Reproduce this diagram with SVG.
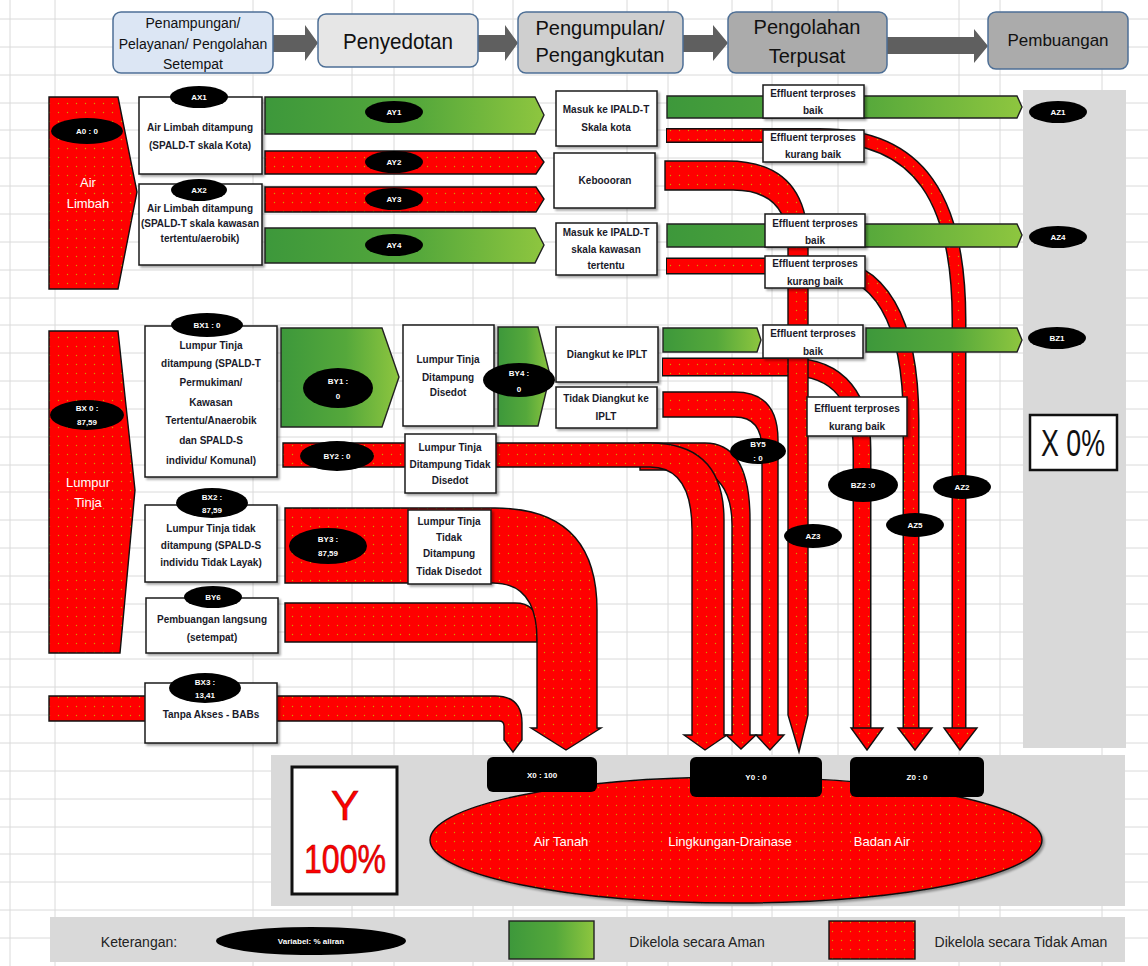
<svg xmlns="http://www.w3.org/2000/svg" width="1148" height="966" viewBox="0 0 1148 966">
<defs>
<pattern id="dots" width="9" height="9" patternUnits="userSpaceOnUse"><rect width="9" height="9" fill="#ff0000"/><circle cx="4.5" cy="4.5" r="0.7" fill="#c9a400"/></pattern>
<linearGradient id="grn" x1="0" y1="0" x2="1" y2="0"><stop offset="0" stop-color="#3d983b"/><stop offset="0.55" stop-color="#55a83b"/><stop offset="1" stop-color="#8ec63f"/></linearGradient>
<filter id="sh" x="-10%" y="-10%" width="125%" height="130%"><feDropShadow dx="2" dy="2" stdDeviation="1.2" flood-color="#000" flood-opacity="0.35"/></filter>
</defs>
<style>
text{font-family:"Liberation Sans",Arial,sans-serif}
.h{fill:#111;text-anchor:middle}
.bt{font-size:10px;font-weight:bold;fill:#1a1a2a;text-anchor:middle}
.et{font-size:8px;font-weight:bold;fill:#fff;text-anchor:middle}
.wt{font-size:13px;fill:#fff;text-anchor:middle}
.box{fill:#fff;stroke:#1a1a1a;stroke-width:1.5;filter:url(#sh)}
.red{fill:url(#dots);stroke:#111;stroke-width:1.4}
.grn{fill:url(#grn);stroke:#222;stroke-width:1.4}
.po{fill:none;stroke:#111}
.pi{fill:none;stroke:url(#dots)}
.hb{stroke:#4d6f96;stroke-width:1.5}
.ha{fill:#5f5f5f}
.el{fill:#000}
</style>
<rect width="1148" height="966" fill="#fff"/>
<path d="M0,19H1148M0,47H1148M0,75H1148M0,103H1148M0,130H1148M0,158H1148M0,186H1148M0,214H1148M0,242H1148M0,270H1148M0,298H1148M0,325H1148M0,353H1148M0,381H1148M0,409H1148M0,437H1148M0,465H1148M0,492H1148M0,520H1148M0,548H1148M0,576H1148M0,604H1148M0,632H1148M0,659H1148M0,687H1148M0,715H1148M0,743H1148M0,771H1148M0,799H1148M0,827H1148M0,854H1148M0,882H1148M0,910H1148M0,938H1148M10,0V966M55,0V966M253,0V966M352,0V966M394,0V966M473,0V966M513,0V966M627,0V966M668,0V966M732,0V966M772,0V966M838,0V966M959,0V966M1000,0V966M1102,0V966" stroke="#dadada" stroke-width="1" fill="none"/>
<rect x="1023" y="90" width="103" height="658" fill="#d9d9d9"/>
<rect x="271" y="755" width="854" height="151" fill="#d9d9d9"/>
<rect x="50" y="917" width="1075" height="45" fill="#d9d9d9"/>

<g id="header">
<polygon class="ha" points="273,35 305,35 305,25 318,43 305,61 305,52 273,52"/>
<polygon class="ha" points="478,35 505,35 505,25 518,43 505,61 505,52 478,52"/>
<polygon class="ha" points="683,35 713,35 713,25 728,43 713,61 713,52 683,52"/>
<polygon class="ha" points="887,37 974,37 974,29 988,46 974,63 974,54 887,54"/>
<g id="h1"><rect x="113" y="12" width="160" height="61" rx="8" fill="#dce6f4" class="hb"/><text class="h" x="193" y="28" font-size="14">Penampungan/</text><text class="h" x="193" y="49" font-size="14">Pelayanan/ Pengolahan</text><text class="h" x="193" y="69" font-size="14">Setempat</text></g>
<g id="h2"><rect x="318" y="14" width="160" height="53" rx="8" fill="#e6e6e6" class="hb"/><text class="h" x="398" y="49" font-size="22" textLength="110" lengthAdjust="spacingAndGlyphs">Penyedotan</text></g>
<g id="h3"><rect x="518" y="12" width="165" height="61" rx="8" fill="#cfcfcf" class="hb"/><text class="h" x="600" y="35" font-size="20">Pengumpulan/</text><text class="h" x="600" y="62" font-size="20">Pengangkutan</text></g>
<g id="h4"><rect x="728" y="12" width="159" height="61" rx="8" fill="#ababab" class="hb"/><text class="h" x="807" y="34" font-size="20">Pengolahan</text><text class="h" x="807" y="63" font-size="20">Terpusat</text></g>
<g id="h5"><rect x="988" y="12" width="140" height="57" rx="8" fill="#ababab" class="hb"/><text class="h" x="1058" y="46" font-size="17">Pembuangan</text></g>
</g>

<g id="connectors">
<path class="po" stroke-width="15" d="M666,135.5 L820,135.5 C920,135.5 959,200 959,320 L959,731"/>
<path class="pi" stroke-width="12" d="M667,135.5 L820,135.5 C920,135.5 959,200 959,320 L959,732"/>
<polygon class="red" points="944,728 977,728 960,750"/>
<path class="po" stroke-width="17" d="M666,266 L820,266 C880,266 911,320 911,420 L911,731"/>
<path class="pi" stroke-width="14" d="M667,266 L820,266 C880,266 911,320 911,420 L911,732"/>
<polygon class="red" points="898,728 932,728 915,750"/>
<path class="po" stroke-width="19" d="M662,367 L790,367 C840,367 862,400 862,450 L862,731"/>
<path class="pi" stroke-width="16" d="M663,367 L790,367 C840,367 862,400 862,450 L862,732"/>
<polygon class="red" points="851,728 883,728 867,750"/>
<path class="red" d="M665,161 L727,161 Q808,161 808,245 L808,715 L799,752 L788,715 L788,245 Q788,190 733,190 L665,190 Z"/>
<path class="red" d="M663,392 L735,392 Q778,392 778,440 L778,735 L784,735 L770,750 L756,735 L762,735 L762,450 Q762,417 735,417 L663,417 Z"/>
<path class="red" d="M640,443 L705,443 Q750,443 750,520 L750,735 L756,735 L741,749 L726,735 L732,735 L732,525 Q732,480 700,470 L640,470 Z"/>
<path class="red" d="M283,443 L650,443 Q724,443 724,520 L724,735 L727,735 L705,750 L684,735 L692,735 L692,530 Q692,467 650,467 L283,467 Z"/>
<path class="red" d="M49,696 L495,696 Q522,696 522,723 L522,740 L513,752 L504,740 L504,726 Q504,721 499,721 L49,721 Z"/>
<path class="red" d="M285,603 L515,603 Q537,603 537,625 L537,642 L285,642 Z"/>
<path class="red" d="M285,508 L495,508 Q597,508 597,610 L597,728 L601,728 L566,750 L531,728 L537,728 L537,640 Q537,583 493,583 L285,583 Z"/>
<polygon class="red" points="265,151 536,151 544,162 536,174 265,174"/>
<polygon class="red" points="265,187 536,187 544,199 536,212 265,212"/>
<polygon class="grn" points="265,97 535,97 544,115 535,134 265,134"/>
<polygon class="grn" points="265,228 535,228 544,245 535,263 265,263"/>
<polygon class="grn" points="667,96 1017,96 1022,107 1017,118 667,118"/>
<polygon class="grn" points="667,224 1017,224 1022,235 1017,247 667,247"/>
<polygon class="grn" points="663,328 757,328 761,340 757,352 663,352"/>
<polygon class="grn" points="866,328 1017,328 1022,340 1017,352 866,352"/>
<polygon class="grn" points="281,328 382,328 399,377 382,427 281,427"/>
<polygon class="grn" points="498,327 538,327 550,375 538,426 498,426"/>
</g>

<g id="air-limbah"><polygon class="red" points="49,97 118,97 137,192 118,289 49,289"/><ellipse class="el" cx="87" cy="131" rx="36" ry="13"/><text class="et" x="87" y="134">A0 : 0</text><text class="wt" x="88" y="187">Air</text><text class="wt" x="88" y="208">Limbah</text></g>
<g id="lumpur-tinja"><polygon class="red" points="49,331 118,331 135,490 120,653 49,653"/><ellipse class="el" cx="87" cy="415" rx="37" ry="15"/><text class="et" x="87" y="411">BX 0 :</text><text class="et" x="87" y="425">87,59</text><text class="wt" x="88" y="487">Lumpur</text><text class="wt" x="88" y="507">Tinja</text></g>

<g id="ax1"><rect class="box" x="139" y="97" width="123" height="77"/><ellipse class="el" cx="199" cy="97" rx="29" ry="11"/><text class="et" x="199" y="100">AX1</text><text class="bt" x="200" y="131">Air Limbah ditampung</text><text class="bt" x="200" y="149">(SPALD-T skala Kota)</text></g>
<g id="ax2"><rect class="box" x="139" y="184" width="123" height="81"/><ellipse class="el" cx="199" cy="190" rx="28" ry="11"/><text class="et" x="199" y="193">AX2</text><text class="bt" x="200" y="212">Air Limbah ditampung</text><text class="bt" x="200" y="227">(SPALD-T skala kawasan</text><text class="bt" x="200" y="242">tertentu/aerobik)</text></g>
<g id="ay-labels"><ellipse class="el" cx="394" cy="112" rx="29" ry="11"/><text class="et" x="394" y="115">AY1</text><ellipse class="el" cx="394" cy="162" rx="29" ry="11"/><text class="et" x="394" y="165">AY2</text><ellipse class="el" cx="394" cy="199" rx="29" ry="11"/><text class="et" x="394" y="202">AY3</text><ellipse class="el" cx="394" cy="245" rx="29" ry="11"/><text class="et" x="394" y="248">AY4</text></g>
<g id="ipald-kota"><rect class="box" x="556" y="91" width="101" height="55"/><text class="bt" x="606" y="113">Masuk ke IPALD-T</text><text class="bt" x="606" y="131">Skala kota</text></g>
<g id="keboooran"><rect class="box" x="554" y="153" width="101" height="55"/><text class="bt" x="605" y="184">Keboooran</text></g>
<g id="ipald-kawasan"><rect class="box" x="556" y="223" width="101" height="52"/><text class="bt" x="606" y="236">Masuk ke IPALD-T</text><text class="bt" x="606" y="253">skala kawasan</text><text class="bt" x="606" y="269">tertentu</text></g>
<g id="eff1"><rect class="box" x="763" y="85" width="101" height="33"/><text class="bt" x="813" y="97">Effluent terproses</text><text class="bt" x="813" y="114">baik</text></g>
<g id="eff2"><rect class="box" x="763" y="130" width="101" height="32"/><text class="bt" x="813" y="141">Effluent terproses</text><text class="bt" x="813" y="158">kurang baik</text></g>
<g id="eff3"><rect class="box" x="765" y="214" width="100" height="33"/><text class="bt" x="815" y="227">Effluent terproses</text><text class="bt" x="815" y="244">baik</text></g>
<g id="eff4"><rect class="box" x="765" y="256" width="100" height="32"/><text class="bt" x="815" y="267">Effluent terproses</text><text class="bt" x="815" y="285">kurang baik</text></g>
<g id="az-labels"><ellipse class="el" cx="1058" cy="112" rx="29" ry="11"/><text class="et" x="1058" y="115">AZ1</text><ellipse class="el" cx="1058" cy="237" rx="29" ry="11"/><text class="et" x="1058" y="240">AZ4</text><ellipse class="el" cx="962" cy="487" rx="29" ry="12"/><text class="et" x="962" y="490">AZ2</text><ellipse class="el" cx="915" cy="525" rx="29" ry="12"/><text class="et" x="915" y="528">AZ5</text><ellipse class="el" cx="813" cy="536" rx="29" ry="12"/><text class="et" x="813" y="539">AZ3</text></g>

<g id="bx1"><rect class="box" x="145" y="326" width="132" height="151"/><ellipse class="el" cx="207" cy="325" rx="36" ry="12"/><text class="et" x="207" y="328">BX1 : 0</text><g class="bt" font-size="11.5"><text x="211" y="349">Lumpur Tinja</text><text x="211" y="367">ditampung (SPALD-T</text><text x="211" y="386">Permukiman/</text><text x="211" y="406">Kawasan</text><text x="211" y="424">Tertentu/Anaerobik</text><text x="211" y="444">dan SPALD-S</text><text x="211" y="464">individu/ Komunal)</text></g></g>
<g id="by1-label"><ellipse class="el" cx="338" cy="388" rx="35" ry="20"/><text class="et" x="338" y="384">BY1 :</text><text class="et" x="338" y="399">0</text></g>
<g id="disedot"><rect class="box" x="403" y="325" width="91" height="101"/><g class="bt" font-size="10.5"><text x="448" y="363">Lumpur Tinja</text><text x="448" y="381">Ditampung</text><text x="448" y="396">Disedot</text></g></g>
<g id="by4-label"><ellipse class="el" cx="519" cy="380" rx="36" ry="17"/><text class="et" x="519" y="376">BY4 :</text><text class="et" x="519" y="392">0</text></g>
<g id="diangkut"><rect class="box" x="556" y="327" width="102" height="55"/><text class="bt" x="607" y="358">Diangkut ke IPLT</text></g>
<g id="tidak-diangkut"><rect class="box" x="556" y="387" width="101" height="41"/><text class="bt" x="606" y="402">Tidak Diangkut ke</text><text class="bt" x="606" y="420">IPLT</text></g>
<g id="eff5"><rect class="box" x="763" y="325" width="100" height="33"/><text class="bt" x="813" y="337">Effluent terproses</text><text class="bt" x="813" y="355">baik</text></g>
<g id="eff6"><rect class="box" x="807" y="397" width="100" height="39"/><text class="bt" x="857" y="412">Effluent terproses</text><text class="bt" x="857" y="430">kurang baik</text></g>
<g id="bz-labels"><ellipse class="el" cx="1057" cy="338" rx="29" ry="11"/><text class="et" x="1057" y="341">BZ1</text><ellipse class="el" cx="863" cy="485" rx="35" ry="17"/><text class="et" x="863" y="488">BZ2 :0</text><ellipse class="el" cx="758" cy="451" rx="28" ry="13"/><text class="et" x="758" y="447">BY5</text><text class="et" x="758" y="461">: 0</text></g>
<g id="by2-label"><ellipse class="el" cx="337" cy="456" rx="37" ry="15"/><text class="et" x="337" y="459">BY2 : 0</text></g>
<g id="tidak-disedot"><rect class="box" x="405" y="434" width="91" height="59"/><g class="bt" font-size="10"><text x="450" y="451">Lumpur Tinja</text><text x="450" y="468">Ditampung Tidak</text><text x="450" y="484">Disedot</text></g></g>
<g id="bx2"><rect class="box" x="145" y="505" width="132" height="77"/><ellipse class="el" cx="212" cy="503" rx="36" ry="15"/><text class="et" x="212" y="500">BX2 :</text><text class="et" x="212" y="513">87,59</text><g class="bt" font-size="10.5"><text x="211" y="532">Lumpur Tinja tidak</text><text x="211" y="549">ditampung (SPALD-S</text><text x="211" y="566">individu Tidak Layak)</text></g></g>
<g id="by3-label"><ellipse class="el" cx="328" cy="546" rx="39" ry="18"/><text class="et" x="328" y="542">BY3 :</text><text class="et" x="328" y="556">87,59</text></g>
<g id="tidak-ditampung"><rect class="box" x="408" y="510" width="83" height="74"/><g class="bt" font-size="10"><text x="449" y="525">Lumpur Tinja</text><text x="449" y="541">Tidak</text><text x="449" y="557">Ditampung</text><text x="449" y="575">Tidak Disedot</text></g></g>
<g id="by6"><rect class="box" x="146" y="598" width="132" height="55"/><ellipse class="el" cx="213" cy="597" rx="29" ry="11"/><text class="et" x="213" y="600">BY6</text><g class="bt" font-size="10.5"><text x="212" y="623">Pembuangan langsung</text><text x="212" y="641">(setempat)</text></g></g>
<g id="bx3"><rect class="box" x="145" y="683" width="132" height="60"/><ellipse class="el" cx="205" cy="688" rx="36" ry="15"/><text class="et" x="205" y="685">BX3 :</text><text class="et" x="205" y="698">13,41</text><text class="bt" font-size="11" x="211" y="718">Tanpa Akses - BABs</text></g>

<g id="x-box"><rect x="1030" y="415" width="87" height="55" fill="#fff" stroke="#111" stroke-width="2.5"/><text x="1073" y="456" font-size="36" fill="#111" text-anchor="middle" textLength="64" lengthAdjust="spacingAndGlyphs">X 0%</text></g>
<g id="y-box"><rect x="292" y="767" width="105" height="127" fill="#fff" stroke="#111" stroke-width="3"/><text x="345" y="820" font-size="42" fill="#ff0000" stroke="#a00" stroke-width="0.6" text-anchor="middle">Y</text><text x="345" y="873" font-size="40" fill="#ff0000" stroke="#a00" stroke-width="0.6" text-anchor="middle" textLength="82" lengthAdjust="spacingAndGlyphs">100%</text></g>
<g id="receivers"><ellipse cx="736" cy="840" rx="306" ry="63" class="red" style="filter:url(#sh)"/><text class="wt" font-size="15" x="561" y="846">Air Tanah</text><text class="wt" font-size="15" x="730" y="846">Lingkungan-Drainase</text><text class="wt" font-size="15" x="882" y="846">Badan Air</text></g>
<g id="x0"><rect x="487" y="757" width="110" height="35" rx="6" fill="#000"/><text class="et" x="542" y="778">X0 : 100</text></g>
<g id="y0"><rect x="690" y="757" width="132" height="40" rx="6" fill="#000"/><text class="et" x="756" y="780">Y0 : 0</text></g>
<g id="z0"><rect x="850" y="757" width="134" height="40" rx="6" fill="#000"/><text class="et" x="917" y="780">Z0 : 0</text></g>

<g id="legend"><text x="139" y="947" font-size="14" fill="#222" text-anchor="middle">Keterangan:</text><ellipse class="el" cx="311" cy="941" rx="95" ry="14"/><text class="et" x="311" y="944">Variabel:  % aliran</text><rect x="509" y="921" width="85" height="38" class="grn"/><text x="697" y="947" font-size="14" fill="#222" text-anchor="middle">Dikelola secara Aman</text><rect x="829" y="921" width="86" height="38" class="red"/><text x="1021" y="947" font-size="14" fill="#222" text-anchor="middle">Dikelola secara Tidak Aman</text></g>
</svg>
